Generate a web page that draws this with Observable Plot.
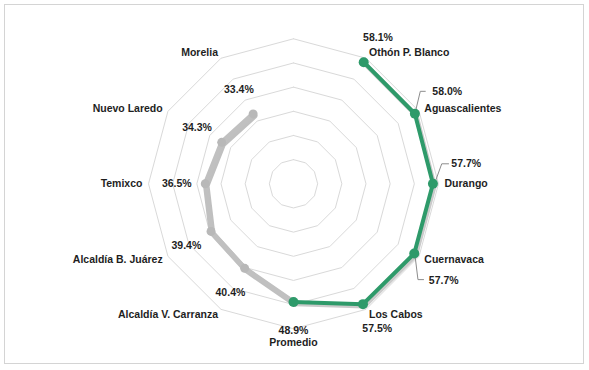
<!DOCTYPE html>
<html>
<head>
<meta charset="utf-8">
<script src="https://cdn.jsdelivr.net/npm/d3@7"></script>
<script src="https://cdn.jsdelivr.net/npm/@observablehq/plot@0.6"></script>
<style>
  html, body { margin: 0; padding: 0; background: #fff; }
  #wrap { position: relative; width: 589px; height: 370px; }
  #borde { position: absolute; left: 4px; top: 4px; width: 578px; height: 358px; border: 1px solid #d4d4d4; pointer-events: none; }
  #chart { position: absolute; left: 0; top: 0; }
</style>
</head>
<body>
<div id="wrap"><div id="chart"></div><div id="borde"></div></div>
<script>
// ---------- DATA ----------
const ejes = ["", "Othón P. Blanco", "Aguascalientes", "Durango", "Cuernavaca", "Los Cabos",
  "Promedio", "Alcaldía V. Carranza", "Alcaldía B. Juárez", "Temixco", "Nuevo Laredo", "Morelia"];
const categoriasAltas = ["Othón P. Blanco", "Aguascalientes", "Durango", "Cuernavaca", "Los Cabos", "Promedio"];
const valoresAltos = [58.1, 58.0, 57.7, 57.7, 57.5, 48.9];
const categoriasBajas = ["Promedio", "Alcaldía V. Carranza", "Alcaldía B. Juárez", "Temixco", "Nuevo Laredo", "Morelia"];
const valoresBajos = [48.9, 40.4, 39.4, 36.5, 34.3, 33.4];
const anillos = [10, 20, 30, 40, 50, 60];

// ---------- LAYOUT ----------
const W = 589, H = 370;
const cx = 293, cy = 183.3, R = 145, maxV = 60;
const pxToU = maxV / R;
const verde = "#2e9a6a", gris = "#c0c0c0";
const n = ejes.length;
const ang = i => i * 2 * Math.PI / n;
const polar = (i, v) => ({x: v * Math.sin(ang(i)), y: v * Math.cos(ang(i))});
const fmt = v => v.toFixed(1) + "%";
// labels moved by hand in the original (with leader lines), offsets in px from the point
const movidas = {
  "Aguascalientes": {label: [17.4, -22], leader: [[1, -4], [5.4, -22.4], [10.4, -22.4]]},
  "Durango": {label: [18.4, -20], leader: [[3, -4], [8.8, -20], [15.6, -20]]},
  "Cuernavaca": {label: [14.6, 26.8], leader: [[1, 4], [3.7, 26.1], [9.3, 26.1]]}
};

// ---------- DERIVED ----------
const grid = anillos.flatMap(r => d3.range(n + 1).map(i => ({ring: r, ...polar(i % n, r)})));
const altos = categoriasAltas.map((c, k) => ({cat: c, v: valoresAltos[k], ...polar(ejes.indexOf(c), valoresAltos[k])}));
const bajos = categoriasBajas.map((c, k) => ({cat: c, v: valoresBajos[k], ...polar(ejes.indexOf(c), valoresBajos[k])}));

const catLabels = ejes.map((c, i) => {
  const s = Math.sin(ang(i));
  return {cat: c, i, ...polar(i, 62.5), anchor: Math.abs(s) < 1e-6 ? "middle" : (s > 0 ? "start" : "end")};
}).filter(d => d.cat !== "");

const valLabelsAll = [];
const seen = new Set();
for (const d of [...altos, ...bajos]) {
  if (seen.has(d.cat)) continue;
  seen.add(d.cat);
  valLabelsAll.push(d);
}
const valLabelsDefault = valLabelsAll.filter(d => !movidas[d.cat]).map(d => ({...d, ...polar(ejes.indexOf(d.cat), d.v + 11.8)}));
const valLabelsMoved = valLabelsAll.filter(d => movidas[d.cat]).map(d => ({...d,
  x: d.x + movidas[d.cat].label[0] * pxToU, y: d.y - movidas[d.cat].label[1] * pxToU}));
const leaders = valLabelsAll.filter(d => movidas[d.cat]).flatMap(d => movidas[d.cat].leader.map(p => ({cat: d.cat,
  x: d.x + p[0] * pxToU, y: d.y - p[1] * pxToU})));

const txt = {fontSize: 10.5, fontWeight: "bold", fill: "#1e1e1e", fontFamily: "Liberation Sans, Arial, sans-serif"};
const sombra = {dx: 1.5, dy: 2};

const chart = Plot.plot({
  width: W, height: H,
  x: {domain: [-maxV, maxV], range: [cx - R, cx + R], axis: null},
  y: {domain: [-maxV, maxV], range: [cy + R, cy - R], axis: null},
  style: {background: "#fff", fontFamily: "Liberation Sans, Arial, sans-serif"},
  marks: [
    Plot.line(grid, {x: "x", y: "y", z: "ring", stroke: "#d9d9d9", strokeWidth: 1}),
    Plot.line(leaders, {x: "x", y: "y", z: "cat", stroke: "#8c8c8c", strokeWidth: 1}),
    // gray series + shadow
    Plot.line(bajos, {x: "x", y: "y", stroke: "#8a8a8a", strokeOpacity: 0.55, strokeWidth: 5.5, ...sombra}),
    Plot.line(bajos, {x: "x", y: "y", stroke: gris, strokeWidth: 5}),
    Plot.dot(bajos, {x: "x", y: "y", r: 4.5, fill: "#b8b8b8"}),
    // green series + shadow
    Plot.line(altos, {x: "x", y: "y", stroke: "#8a8a8a", strokeOpacity: 0.45, strokeWidth: 4.5, ...sombra}),
    Plot.line(altos, {x: "x", y: "y", stroke: verde, strokeWidth: 4}),
    Plot.dot(altos, {x: "x", y: "y", r: 5, fill: verde}),
    Plot.text(catLabels.filter(d => d.anchor === "start"), {x: "x", y: "y", text: "cat", textAnchor: "start", ...txt}),
    Plot.text(catLabels.filter(d => d.anchor === "end"), {x: "x", y: "y", text: "cat", textAnchor: "end", ...txt}),
    Plot.text(catLabels.filter(d => d.anchor === "middle"), {x: "x", y: "y", text: "cat", textAnchor: "middle", lineAnchor: "top", dy: 3.5, ...txt}),
    Plot.text(valLabelsDefault, {x: "x", y: "y", text: d => fmt(d.v), textAnchor: "middle", ...txt}),
    Plot.text(valLabelsMoved, {x: "x", y: "y", text: d => fmt(d.v), textAnchor: "start", ...txt})
  ]
});
document.getElementById("chart").appendChild(chart);
</script>
</body>
</html>
